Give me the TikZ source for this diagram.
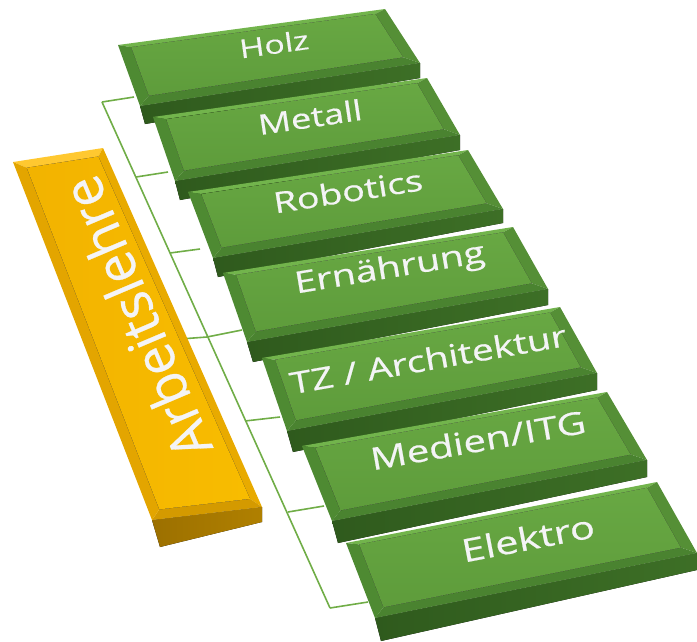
\documentclass[tikz,border=0pt]{standalone}
\usepackage{fontspec}
\setmainfont{Open Sans}
\newfontfamily\lblfont[FakeBold=0.5]{Open Sans}
\usetikzlibrary{calc}
\definecolor{connG}{HTML}{70AD47}
\definecolor{gInnerT}{HTML}{68A843}
\definecolor{gInnerB}{HTML}{5E9C3B}
\definecolor{gTopBand}{HTML}{72B44C}
\definecolor{gRightBand}{HTML}{558F36}
\definecolor{gBotBand}{HTML}{4A8330}
\definecolor{gLeftBand}{HTML}{4E8A32}
\definecolor{gFrontL}{HTML}{2F5A1D}
\definecolor{gFrontR}{HTML}{3D6F26}
\definecolor{yInnerT}{HTML}{F8BC00}
\definecolor{yInnerB}{HTML}{F2B300}
\definecolor{yTopBand}{HTML}{FFC830}
\definecolor{yRightBand}{HTML}{E8AA00}
\definecolor{yBotBand}{HTML}{D49A00}
\definecolor{yLeftBand}{HTML}{E3A500}
\definecolor{yFrontL}{HTML}{9C7000}
\definecolor{yFrontR}{HTML}{B08000}
\definecolor{txtMain}{HTML}{F4F4F6}
\tikzset{
  conn/.style={draw=connG, line width=1.6pt},
  gfront/.style={left color=gFrontL, right color=gFrontR},
  gtopband/.style={fill=gTopBand},
  grightband/.style={fill=gRightBand},
  gbotband/.style={fill=gBotBand},
  gleftband/.style={fill=gLeftBand},
  ginner/.style={top color=gInnerT, bottom color=gInnerB},
  yfront/.style={left color=yFrontL, right color=yFrontR},
  ytopband/.style={fill=yTopBand},
  yrightband/.style={fill=yRightBand},
  ybotband/.style={fill=yBotBand},
  yleftband/.style={fill=yLeftBand},
  yinner/.style={left color=yInnerB, right color=yInnerT},
  lbl/.style={text=txtMain, inner sep=0pt},
}
% #1 name, #2 style prefix, #3..#8 corner points P1..P6
\newcommand\slab[8]{%
  \coordinate (#1-1) at #3;
  \coordinate (#1-2) at #4;
  \coordinate (#1-3) at #5;
  \coordinate (#1-4) at #6;
  \coordinate (#1-5) at #7;
  \coordinate (#1-6) at #8;
  \coordinate (#1-i1) at ($(#1-1)!\bwL!(#1-2) + (#1-1)!\bwT!(#1-6) - (#1-1)$);
  \coordinate (#1-i2) at ($(#1-2)!\bwR!(#1-1) + (#1-2)!\bwT!(#1-3) - (#1-2)$);
  \coordinate (#1-i3) at ($(#1-3)!\bwR!(#1-6) + (#1-3)!\bwB!(#1-2) - (#1-3)$);
  \coordinate (#1-i6) at ($(#1-6)!\bwL!(#1-3) + (#1-6)!\bwB!(#1-1) - (#1-6)$);
  \fill[#2front] (#1-6) -- (#1-3) -- (#1-4) -- (#1-5) -- cycle;
  \fill[#2topband] (#1-1) -- (#1-2) -- (#1-i2) -- (#1-i1) -- cycle;
  \fill[#2rightband] (#1-2) -- (#1-3) -- (#1-i3) -- (#1-i2) -- cycle;
  \fill[#2botband] (#1-3) -- (#1-6) -- (#1-i6) -- (#1-i3) -- cycle;
  \fill[#2leftband] (#1-6) -- (#1-1) -- (#1-i1) -- (#1-i6) -- cycle;
  \fill[#2inner] (#1-i1) -- (#1-i2) -- (#1-i3) -- (#1-i6) -- cycle;
}
% #1 name, #2 position, #3 angle, #4 size, #5 xscale, #6 text
\newcommand\slablabel[6]{%
  \node[lbl, rotate=#3, xscale=#5,
        font=\lblfont\fontsize{#4}{#4}\selectfont] (#1) at #2 {#6};
}
\begin{document}
\begin{tikzpicture}[x=1pt,y=-1pt]
\useasboundingbox (0,0) rectangle (697,641);
% connector points
\coordinate (t1) at (102,102);
\coordinate (t2) at (136,177);
\coordinate (t3) at (170,253);
\coordinate (t4) at (207,337);
\coordinate (t5) at (245,421);
\coordinate (t6) at (288,512);
\coordinate (t7) at (330,608);
\coordinate (ap) at (180,339);
\coordinate (b1) at (134,97);
\coordinate (b2) at (168,172);
\coordinate (b3) at (200,249);
\coordinate (b4) at (242,330);
\coordinate (b5) at (280,417);
\coordinate (b6) at (324,506);
\coordinate (b7) at (368,602);
\draw[conn] (t1) -- (t7);
\draw[conn] (ap) -- (t4);
\foreach \i in {1,...,7} { \draw[conn] (t\i) -- (b\i); }
% yellow parent bar
\def\bwL{11pt}\def\bwR{8pt}\def\bwT{8pt}\def\bwB{10pt}
\slab{arb}{y}{(13,162)}{(103,148)}{(262,507)}{(262,522)}{(160,547)}{(152,520)}
\slablabel{arbl}{(136,318)}{113}{55}{0.96}{Arbeitslehre}
% green bars
\def\bwL{12pt}\def\bwR{12pt}\def\bwT{4pt}\def\bwB{9pt}
\slab{holz}{g}{(118,45)}{(385,9)}{(420,63)}{(420,78)}{(145,124)}{(140,106)}
\slablabel{holzl}{(274,44)}{8}{26}{1.3}{Holz}
\slab{met}{g}{(153,117)}{(427,78)}{(460,135)}{(460,150)}{(180,200)}{(175,181)}
\slablabel{metl}{(310,117)}{8.5}{28}{1.3}{Metall}
\slab{rob}{g}{(188,192)}{(468,150)}{(503,209)}{(503,223)}{(218,277)}{(213,258)}
\slablabel{robl}{(348,191)}{9}{29}{1.3}{Robotics}
\slab{ern}{g}{(223,273)}{(513,227)}{(548,289)}{(548,305)}{(253,362)}{(247,342)}
\slablabel{ernl}{(390,270)}{9.5}{30}{1.3}{Ernährung}
\slab{tz}{g}{(262,358)}{(560,307)}{(597,373)}{(597,390)}{(293,452)}{(287,431)}
\slablabel{tzl}{(428,359)}{10}{30}{1.3}{TZ / Architektur}
\slab{med}{g}{(302,446)}{(607,392)}{(647,460)}{(647,477)}{(338,543)}{(332,521)}
\slablabel{medl}{(478,440)}{10}{31}{1.3}{Medien/ITG}
\slab{ele}{g}{(346,543)}{(657,482)}{(697,553)}{(697,570)}{(381,641)}{(375,618)}
\slablabel{elel}{(528,538)}{11}{32}{1.3}{Elektro}
\end{tikzpicture}
\end{document}
